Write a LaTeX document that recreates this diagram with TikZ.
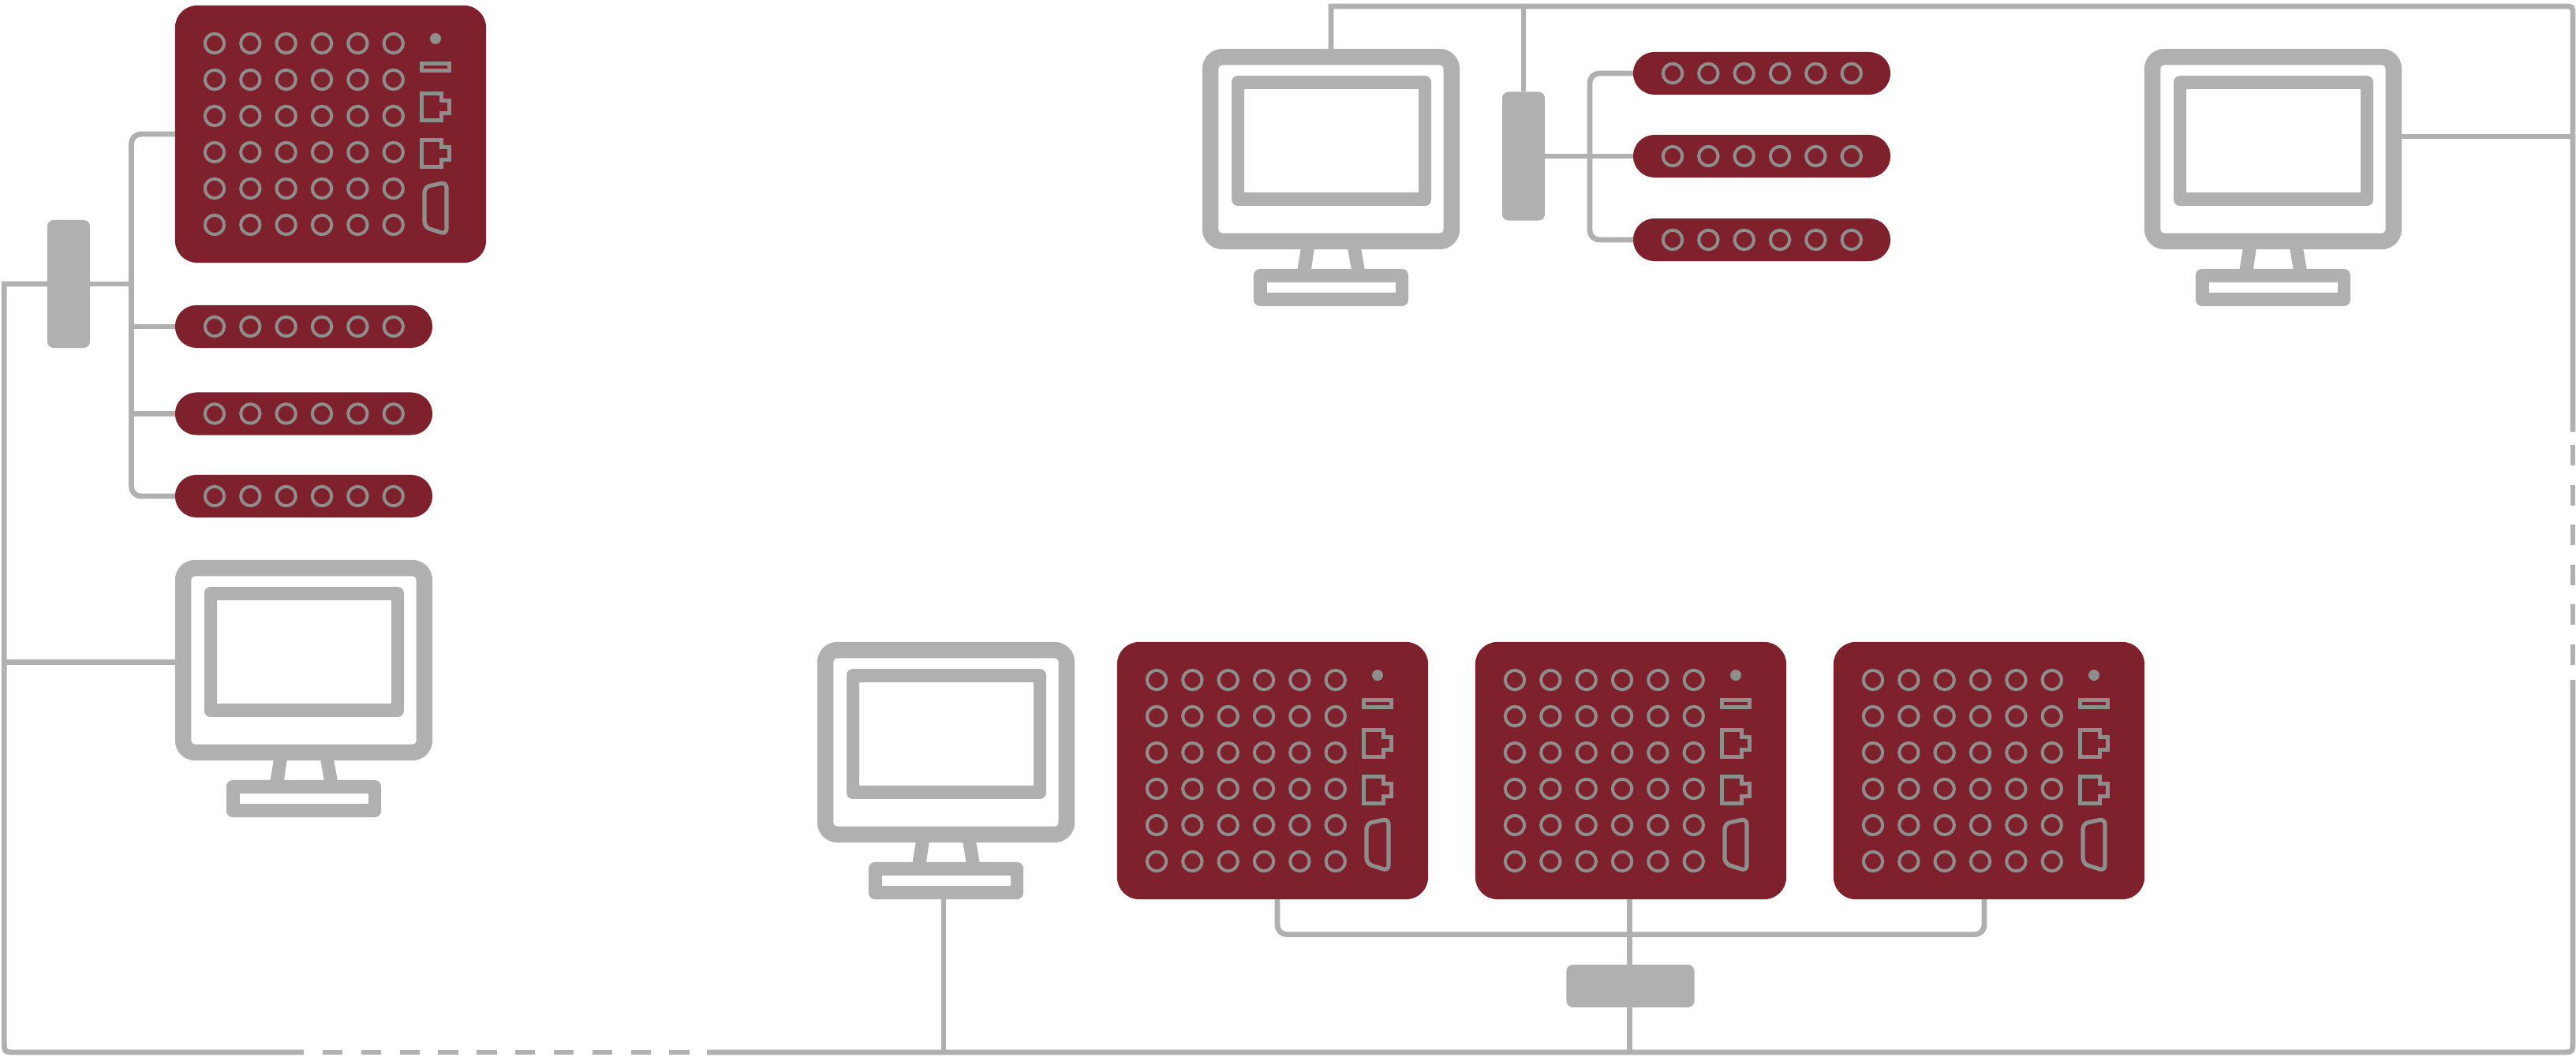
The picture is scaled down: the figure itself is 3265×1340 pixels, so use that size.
\documentclass[tikz,border=0pt]{standalone}
\definecolor{wirecol}{HTML}{B0B0B0}
\definecolor{panelcol}{HTML}{7E212D}
\definecolor{portcol}{HTML}{8E8F8C}
\tikzset{
  x=.01cm,y=-.01cm,
  wire/.style={draw=wirecol,line width=.068cm},
  hubbox/.style={fill=wirecol,rounded corners=.08cm,inner sep=0pt,outer sep=0pt},
  panelbox/.style={fill=panelcol,inner sep=0pt,outer sep=0pt},
  portring/.style={draw=portcol,line width=.04cm},
  portline/.style={draw=portcol,line width=.052cm,miter limit=10},
  ringrow/.pic={
    \foreach \i in {0,...,5}
      \draw[portring] ({50+45.35*\i},0) circle[radius=.122cm];
  },
  bigpanel/.pic={
    \node[panelbox,rounded corners=.28cm,minimum width=3.94cm,minimum height=3.26cm] (-box) at (197,163) {};
    \foreach \r in {0,...,5}
      \pic at (0,{48+46*\r}) {ringrow};
    \fill[portcol] (330,42) circle[radius=.07cm];
    \draw[portline] (312.5,73.5) rectangle (347.5,82.5);
    \foreach \d in {0,58.7}
      \draw[portline] (312.5,{111.5+\d}) -- (337.5,{111.5+\d}) -- (337.5,{120.5+\d}) -- (347.5,{120.5+\d}) -- (347.5,{136.5+\d}) -- (337.5,{136.5+\d}) -- (337.5,{145.5+\d}) -- (312.5,{145.5+\d}) -- cycle;
    \draw[portline,rounded corners=.07cm] (316,230) -- (344,224) -- (344,290) -- (316,281) -- cycle;
  },
  strippanel/.pic={
    \node[panelbox,rounded corners=.27cm,minimum width=3.26cm,minimum height=.54cm] (-box) at (163,27) {};
    \pic at (0,27) {ringrow};
  },
  monitor/.pic={
    \node[draw=wirecol,line width=.205cm,rounded corners=.15cm,inner sep=0pt,minimum width=3.055cm,minimum height=2.335cm] (-box) at (163,127) {};
    \fill[wirecol,even odd rule,rounded corners=.08cm] (37,34) rectangle (290,199) [sharp corners] (53,51) rectangle (274,182);
    \fill[wirecol] (125,252) -- (142,252) -- (137.7,281) -- (120.3,281) -- cycle;
    \fill[wirecol] (184,252) -- (201,252) -- (206,281) -- (189,281) -- cycle;
    \node[hubbox,minimum width=1.96cm,minimum height=.47cm] (-base) at (163,302.5) {};
    \fill[white] (82,296) rectangle (245,309);
  },
}
\begin{document}
\begin{tikzpicture}
\useasboundingbox (0,0) rectangle (3265,1340);
\fill[white] (0,0) rectangle (3265,1340);

% equipment
\pic (pL) at (222,7) {bigpanel};
\pic (s1) at (222,387) {strippanel};
\pic (s2) at (222,497.5) {strippanel};
\pic (s3) at (222,602) {strippanel};
\pic (m1) at (222,710) {monitor};
\pic (m2) at (1524,62) {monitor};
\pic (m3) at (2718,62) {monitor};
\pic (m4) at (1036,814) {monitor};
\pic (t1) at (2070,66) {strippanel};
\pic (t2) at (2070,171) {strippanel};
\pic (t3) at (2070,277) {strippanel};
\pic (p1) at (1416,814) {bigpanel};
\pic (p2) at (1870,814) {bigpanel};
\pic (p3) at (2324,814) {bigpanel};

% hubs
\node[hubbox,minimum width=.54cm,minimum height=1.62cm] (lhub) at (87,360) {};
\node[hubbox,minimum width=.54cm,minimum height=1.63cm] (thub) at (1931,198) {};
\node[hubbox,minimum width=1.62cm,minimum height=.54cm] (bhub) at (2066.5,1250) {};

% junctions
\coordinate (ltop) at (166.5,170);
\coordinate (lbot) at (166.5,629);
\coordinate (ttop) at (2015,93);
\coordinate (tbot) at (2015,304);
\coordinate (bl) at (1619,1184.7);
\coordinate (br) at (2515,1184.7);
\coordinate (jb) at (2065.5,1334);
\coordinate (jm4) at (1196,1334);
\coordinate (jm1) at (5.3,839.5);
\coordinate (jm3) at (3261,173);
\coordinate (cTL) at (5.3,360);
\coordinate (cBL) at (5.3,1334);
\coordinate (cBLa) at (5.3,1319);
\coordinate (cBLb) at (20.3,1334);
\coordinate (gapA) at (385,1334);
\coordinate (da1) at (409,1334);
\coordinate (da2) at (873.5,1334);
\coordinate (gapB) at (896,1334);
\coordinate (cBR) at (3261,1334);
\coordinate (cBRa) at (3246,1334);
\coordinate (cBRb) at (3261,1319);
\coordinate (gapC) at (3261,862);
\coordinate (db1) at (3261,843);
\coordinate (db2) at (3261,564);
\coordinate (gapD) at (3261,547.7);
\coordinate (cTR) at (3261,8);
\coordinate (cTRa) at (3261,19);
\coordinate (cTRb) at (3250,8);
\coordinate (cM2) at (1687,8);
\coordinate (jth) at (1931,8);

% left group
\draw[wire,rounded corners=.12cm] (pL-box.west |- ltop) -- (ltop) -- (lbot) -- (s3-box.west);
\draw[wire] (lhub.east) -- (lhub.east -| ltop);
\draw[wire] (s1-box.west) -- (s1-box.west -| ltop);
\draw[wire] (s2-box.west) -- (s2-box.west -| ltop);

% main loop
\draw[wire,miter limit=10] (lhub.west) -- (cTL) -- (cBLa) .. controls (cBL) .. (cBLb) -- (gapA);
\draw[wire,dash pattern=on .253cm off .235cm] (da1) -- (da2);
\draw[wire] (gapB) -- (cBRa) .. controls (cBR) .. (cBRb) -- (gapC);
\draw[wire,dash pattern=on .26cm off .245cm] (db1) -- (db2);
\draw[wire,miter limit=10] (gapD) -- (cTRa) .. controls (cTR) .. (cTRb) -- (cM2) -- (m2-box.north -| cM2);

% monitors onto the loop
\draw[wire] (m1-box.west |- jm1) -- (jm1);
\draw[wire] (m3-box.east |- jm3) -- (jm3);
\draw[wire] (m4-base.south -| jm4) -- (jm4);

% top group
\draw[wire] (jth) -- (thub.north);
\draw[wire] (thub.east) -- (t2-box.west);
\draw[wire,rounded corners=.12cm] (t1-box.west) -- (ttop) -- (tbot) -- (t3-box.west);

% bottom group
\draw[wire,rounded corners=.12cm] (p1-box.south -| bl) -- (bl) -- (br) -- (p3-box.south -| br);
\draw[wire] (p2-box.south -| jb) -- (bhub.north -| jb);
\draw[wire] (bhub.south -| jb) -- (jb);
\end{tikzpicture}
\end{document}
